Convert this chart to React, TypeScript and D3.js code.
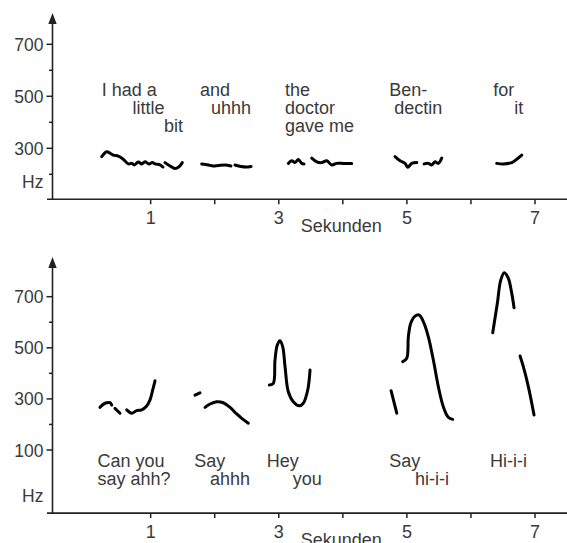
import React from 'react';
import * as d3 from 'd3';

// pitch contours, [seconds, Hz]
const topSegments: [number, number][][] = [
  [[0.236, 268], [0.314, 287], [0.365, 281], [0.417, 274], [0.495, 270], [0.573, 258], [0.651, 240], [0.704, 242], [0.745, 236], [0.807, 247], [0.86, 240], [0.912, 248], [0.974, 240], [1.026, 245], [1.068, 240], [1.146, 236], [1.193, 228]],
  [[1.224, 245], [1.302, 232], [1.38, 222], [1.443, 229], [1.494, 245]],
  [[1.797, 240], [1.9, 236], [1.973, 232], [2.056, 234], [2.161, 236], [2.254, 232]],
  [[2.317, 236], [2.411, 230], [2.489, 228], [2.567, 230]],
  [[3.149, 242], [3.202, 252], [3.254, 245], [3.305, 257], [3.358, 242], [3.394, 240]],
  [[3.514, 262], [3.593, 248], [3.671, 245], [3.749, 252], [3.827, 236], [3.905, 242], [4.008, 242], [4.139, 242]],
  [[4.815, 268], [4.893, 252], [4.971, 242], [5.013, 227], [5.076, 242], [5.154, 245]],
  [[5.268, 240], [5.335, 242], [5.388, 236], [5.439, 248], [5.491, 242], [5.544, 262]],
  [[6.403, 242], [6.506, 240], [6.637, 245], [6.715, 258], [6.793, 274]],
];

const bottomSegments: [number, number][][] = [
  [[0.209, 267], [0.287, 283], [0.365, 285], [0.392, 276]],
  [[0.443, 263], [0.521, 244]],
  [[0.626, 257], [0.704, 244], [0.782, 254], [0.86, 257], [0.938, 272], [0.99, 296], [1.032, 335], [1.068, 371]],
  [[1.692, 315], [1.77, 324]],
  [[1.849, 267], [1.927, 280], [2.031, 289], [2.134, 285], [2.239, 267], [2.343, 241], [2.422, 224], [2.525, 205]],
  [[2.853, 354], [2.915, 361], [2.941, 452], [2.977, 511], [3.02, 528], [3.062, 504], [3.098, 426], [3.149, 328], [3.227, 289], [3.321, 273], [3.383, 283], [3.452, 335], [3.488, 413]],
  [[4.753, 332], [4.842, 244]],
  [[4.935, 446], [4.998, 459], [5.023, 543], [5.06, 596], [5.127, 624], [5.194, 628], [5.257, 602], [5.335, 543], [5.413, 452], [5.491, 348], [5.569, 269], [5.647, 228], [5.716, 220]],
  [[6.34, 559], [6.412, 674], [6.465, 765], [6.521, 794], [6.584, 772], [6.637, 713], [6.673, 657]],
  [[6.767, 468], [6.818, 426], [6.896, 348], [6.985, 237]],
];

// words: text, start time, line
const topWords: [string, number, number][] = [
  ['I had a', 0.236, 0], ['little', 0.717, 1], ['bit', 1.208, 2],
  ['and', 1.77, 0], ['uhhh', 1.942, 1],
  ['the', 3.098, 0], ['doctor', 3.098, 1], ['gave me', 3.098, 2],
  ['Ben-', 4.726, 0], ['dectin', 4.804, 1],
  ['for', 6.35, 0], ['it', 6.678, 1],
];
const bottomWords: [string, number, number][] = [
  ['Can you', 0.17, 0], ['say ahh?', 0.17, 1],
  ['Say', 1.682, 0], ['ahhh', 1.927, 1],
  ['Hey', 2.812, 0], ['you', 3.218, 1],
  ['Say', 4.726, 0], ['hi-i-i', 5.127, 1],
  ['Hi-i-i', 6.298, 0],
];

const xTicks = [1, 2, 3, 4, 5, 6, 7];
const xTickLabels = ['1', '3', '5', '7'];
const topYTicks = [200, 300, 400, 500, 600, 700];
const topYLabels = ['300', '500', '700'];
const bottomYTicks = [100, 200, 300, 400, 500, 600, 700];
const bottomYLabels = ['100', '300', '500', '700'];

const FONT = '"Liberation Sans", Arial, Helvetica, sans-serif';
const TEXT = '#3a3a3a';
const AXIS = '#222';

const x = d3.scaleLinear().domain([0, 7]).range([86.6, 535]);

type PanelProps = {
  y: d3.ScaleLinear<number, number>;
  yMin: number;
  yTop: number;
  ticks: number[];
  labels: string[];
  segments: [number, number][][];
  words: [string, number, number][];
  wordBase: number;
};

const Panel = ({ y, yMin, yTop, ticks, labels, segments, words, wordBase }: PanelProps) => {
  const ax = 52.5;
  const axisY = y(yMin);
  const tipY = y(yTop);
  const line = d3
    .line<[number, number]>()
    .x((d) => x(d[0]))
    .y((d) => y(d[1]))
    .curve(d3.curveCatmullRom.alpha(0.5));

  return (
    <g>
      {/* x axis */}
      <line x1={47} x2={567} y1={axisY} y2={axisY} stroke={AXIS} strokeWidth={1.6} />
      {xTicks.map((t) => (
        <line key={t} x1={x(t)} x2={x(t)} y1={axisY} y2={axisY + 5} stroke={AXIS} strokeWidth={1.5} />
      ))}
      {xTickLabels.map((s) => (
        <text key={s} x={x(+s)} y={axisY + 25} textAnchor="middle" fontSize={18} fill={TEXT}>
          {s}
        </text>
      ))}
      <text x={300.7} y={axisY + 32.7} fontSize={18} fill={TEXT}>
        Sekunden
      </text>

      {/* y axis */}
      <line x1={ax} x2={ax} y1={axisY} y2={tipY + 8} stroke={AXIS} strokeWidth={1.6} />
      <path d={`M${ax},${tipY} L${ax - 4.2},${tipY + 11} L${ax + 4.2},${tipY + 11} Z`} fill={AXIS} />
      {ticks.map((v) => {
        const major = labels.includes(String(v));
        return (
          <line key={v} x1={ax - (major ? 6 : 3.5)} x2={ax} y1={y(v)} y2={y(v)} stroke={AXIS} strokeWidth={1.5} />
        );
      })}
      {labels.map((s) => (
        <text key={s} x={43.5} y={y(+s) + 6.5} textAnchor="end" fontSize={17.5} fill={TEXT}>
          {s}
        </text>
      ))}
      <text x={43.5} y={axisY - 11} textAnchor="end" fontSize={17.5} fill={TEXT}>
        Hz
      </text>

      {/* words */}
      {words.map(([w, t, row], i) => (
        <text key={i} x={x(t)} y={wordBase + row * 18} fontSize={18} fill={TEXT}>
          {w}
        </text>
      ))}

      {/* contours */}
      {segments.map((seg, i) => (
        <path
          key={i}
          d={line(seg) || ''}
          fill="none"
          stroke="#000"
          strokeWidth={3}
          strokeLinecap="round"
          strokeLinejoin="round"
        />
      ))}
    </g>
  );
};

export default function App() {
  const yTopPanel = d3.scaleLinear().domain([300, 700]).range([148.3, 44.3]);
  const yBottomPanel = d3.scaleLinear().domain([100, 700]).range([450, 296.7]);

  return (
    <svg
      width={567}
      height={543}
      style={{ position: 'absolute', left: 0, top: 0, background: '#fff' }}
      fontFamily={FONT}
    >
      <rect width={567} height={543} fill="#fff" />
      <Panel
        y={yTopPanel}
        yMin={104}
        yTop={820}
        ticks={topYTicks}
        labels={topYLabels}
        segments={topSegments}
        words={topWords}
        wordBase={95.7}
      />
      <Panel
        y={yBottomPanel}
        yMin={-147}
        yTop={855}
        ticks={bottomYTicks}
        labels={bottomYLabels}
        segments={bottomSegments}
        words={bottomWords}
        wordBase={466.7}
      />
    </svg>
  );
}
